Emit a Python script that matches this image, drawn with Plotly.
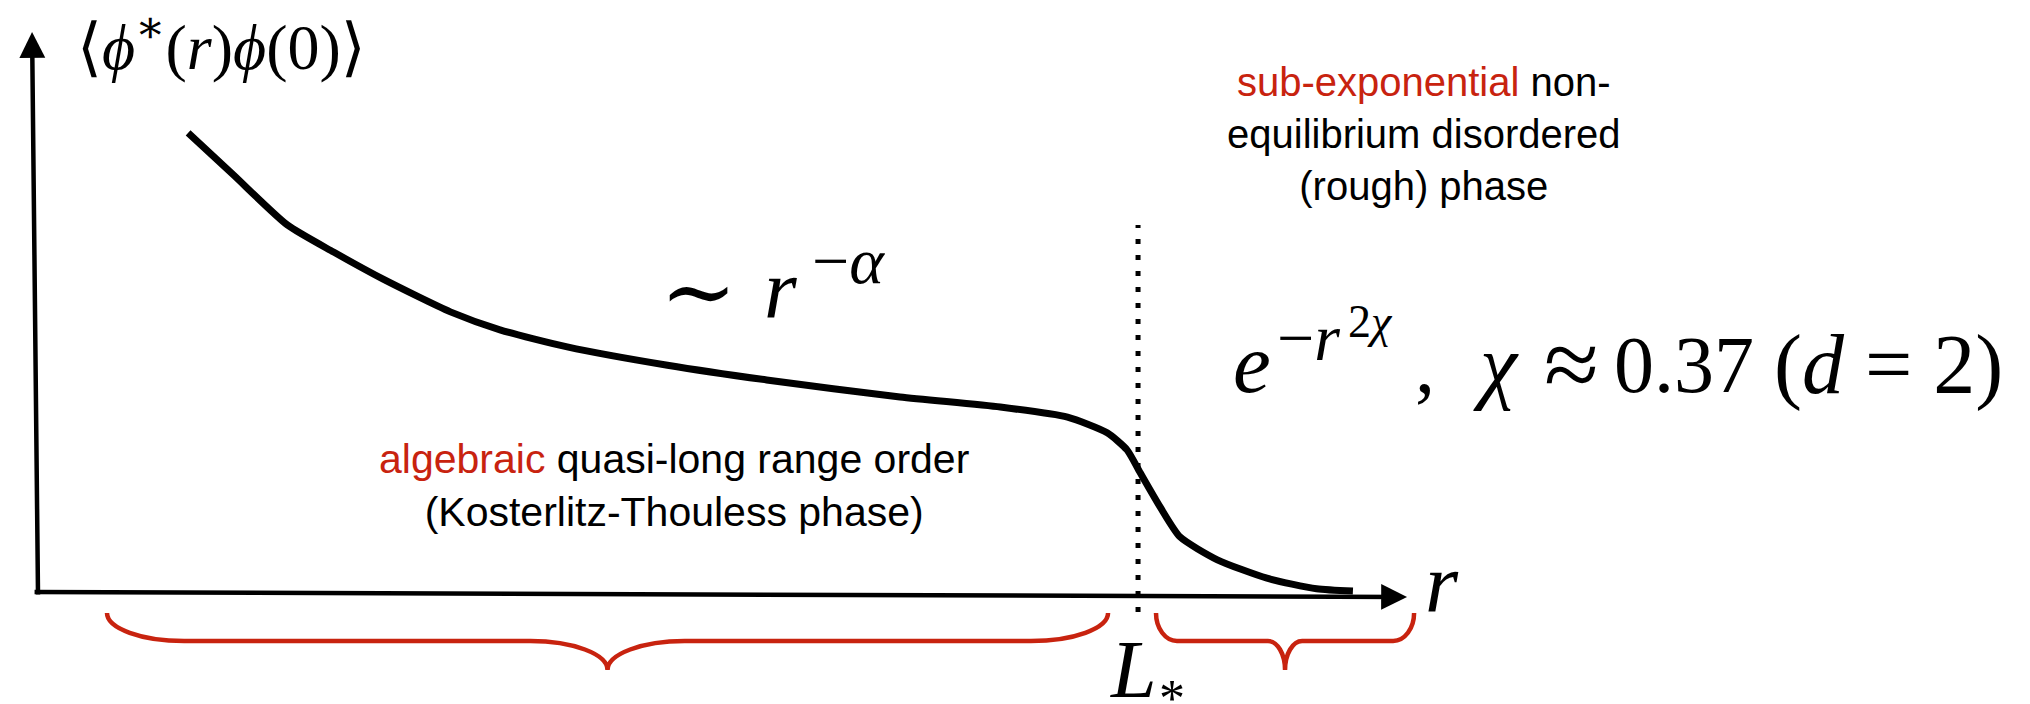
import plotly.graph_objects as go

# Correlation function <phi*(r) phi(0)> versus distance r (r measured in units of L*)
r_values = [0.138, 0.179, 0.228, 0.270, 0.315, 0.376, 0.421, 0.482, 0.573, 0.663,
            0.784, 0.875, 0.936, 0.972, 0.990, 1.002, 1.020, 1.038, 1.072, 1.117,
            1.162, 1.195]
corr_values = [0.998, 0.907, 0.798, 0.739, 0.680, 0.609, 0.570, 0.533, 0.493, 0.461,
               0.424, 0.402, 0.380, 0.346, 0.309, 0.259, 0.185, 0.120, 0.070, 0.030,
               0.007, 0.002]

# crossover length separating the two regimes
L_STAR = 1.0

# r-intervals covered by each regime (marked with braces under the r axis)
algebraic_range = (0.0644, 0.9728)
subexp_range = (1.0163, 1.2505)

RED = "#c8230f"
SANS = "Liberation Sans, Arial, Helvetica, sans-serif"
SERIF = "Liberation Serif, DejaVu Serif, serif"

X_RANGE = [-0.0327, 1.8094]
Y_RANGE = [-0.2435, 1.2870]

fig = go.Figure()

# the correlation curve
fig.add_trace(go.Scatter(
    x=r_values, y=corr_values, mode="lines",
    line=dict(color="black", width=7, shape="spline", smoothing=0.6),
    hoverinfo="skip", showlegend=False,
))

annotations = []

# axes drawn as arrows
annotations.append(dict(x=-0.0036, y=1.2174, ax=0.0018, ay=-0.0087,
                        xref="x", yref="y", axref="x", ayref="y", text="",
                        showarrow=True, arrowhead=2, arrowsize=1.15,
                        arrowwidth=4.5, arrowcolor="black", standoff=0))
annotations.append(dict(x=1.2441, y=-0.0109, ax=-0.0027, ay=0.0,
                        xref="x", yref="y", axref="x", ayref="y", text="",
                        showarrow=True, arrowhead=2, arrowsize=1.15,
                        arrowwidth=4.5, arrowcolor="black", standoff=0))


def label(x, y, text, size, family=SERIF, xanchor="center", yanchor="middle",
          color="black", align="center"):
    annotations.append(dict(x=x, y=y, xref="x", yref="y", text=text,
                            showarrow=False, xanchor=xanchor, yanchor=yanchor,
                            align=align,
                            font=dict(family=family, size=size, color=color)))


# y-axis title
label(0.1679, 1.1957, "⟨<i>ϕ</i><sup>∗</sup>(<i>r</i>)<i>ϕ</i>(0)⟩", 64)

# power-law regime
label(0.6007, 0.6522, "∼", 92)
label(0.6760, 0.6587, "<i>r</i>", 84)
label(0.7024, 0.7217, "−<i>α</i>", 66, xanchor="left")

# stretched-exponential regime
label(1.1034, 0.4978, "<i>e</i>", 85)
label(1.1243, 0.5522, "−<i>r</i>", 66, xanchor="left")
label(1.1890, 0.5890, "2<i>χ</i>", 46, xanchor="left")
label(1.2604, 0.4935, ",", 80)
label(1.3249, 0.4935, "<i>χ</i>", 84)
label(1.3929, 0.4935, "≈", 100)
label(1.4950, 0.4935, "0.37", 80)
label(1.6810, 0.4935, "(<i>d</i> = 2)", 84)

# phase descriptions
label(0.579, 0.2326,
      f"<span style='color:{RED}'>algebraic</span> quasi-long range order"
      "<br>(Kosterlitz-Thouless phase)", 41, family=SANS)
label(1.2595, 0.9957,
      f"<span style='color:{RED}'>sub-exponential</span> non-"
      "<br>equilibrium disordered<br>(rough) phase", 40, family=SANS)

# axis symbols
label(1.2759, 0.0196, "<i>r</i>", 85)
label(0.9955, -0.1674, "<i>L</i>", 82)
label(1.0308, -0.2326, "*", 52)

shapes = []

# dotted marker at the crossover length
shapes.append(dict(type="line", xref="x", yref="y", x0=L_STAR, x1=L_STAR,
                   y0=-0.0435, y1=0.798,
                   line=dict(color="black", width=5, dash="5px,11px")))


def brace_path(x0, x1, curl, tip, y_top=-0.0457, y_flat=-0.1065, y_tip=-0.1696):
    xm = 0.5 * (x0 + x1)
    k = 0.45
    p = [f"M {x0},{y_top}",
         f"C {x0},{y_top + (1 - k) * (y_flat - y_top)} {x0 + k * curl},{y_flat} {x0 + curl},{y_flat}",
         f"L {xm - tip},{y_flat}",
         f"C {xm - k * tip},{y_flat} {xm},{y_flat + k * (y_tip - y_flat)} {xm},{y_tip}",
         f"C {xm},{y_flat + k * (y_tip - y_flat)} {xm + k * tip},{y_flat} {xm + tip},{y_flat}",
         f"L {x1 - curl},{y_flat}",
         f"C {x1 - k * curl},{y_flat} {x1},{y_top + (1 - k) * (y_flat - y_top)} {x1},{y_top}"]
    return " ".join(p)


shapes.append(dict(type="path", xref="x", yref="y",
                   path=brace_path(*algebraic_range, curl=0.070, tip=0.070),
                   line=dict(color=RED, width=4.5)))
shapes.append(dict(type="path", xref="x", yref="y",
                   path=brace_path(*subexp_range, curl=0.019, tip=0.0155),
                   line=dict(color=RED, width=4.5)))

fig.update_layout(
    width=2030, height=704,
    margin=dict(l=0, r=0, t=0, b=0),
    paper_bgcolor="white", plot_bgcolor="white",
    xaxis=dict(range=X_RANGE, visible=False, fixedrange=True),
    yaxis=dict(range=Y_RANGE, visible=False, fixedrange=True),
    annotations=annotations, shapes=shapes,
    showlegend=False, hovermode=False,
)

fig.write_html("out.html", config={"displayModeBar": False})
